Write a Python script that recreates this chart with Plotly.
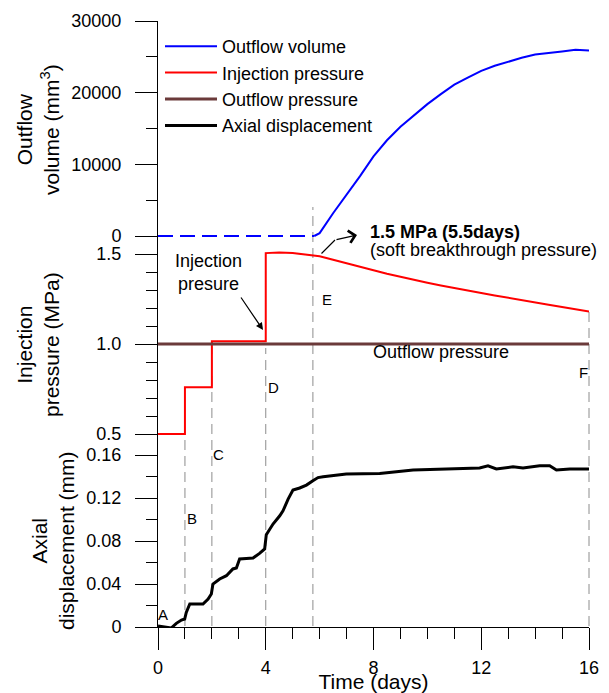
import plotly.graph_objects as go

# ---------------- data ----------------
vol_flat_days = [0, 5.8]
vol_flat = [0, 0]
vol_days = [5.8, 6.0, 6.5, 7.0, 7.5, 8.0, 8.5, 9.0, 9.5, 10.0, 10.5, 11.0, 11.5,
            12.0, 12.5, 13.0, 13.5, 14.0, 14.5, 15.0, 15.5, 16.0]
vol = [0, 400, 3170, 5680, 8350, 11100, 13360, 15250, 16890, 18400, 19800, 21120,
       22100, 23050, 23760, 24350, 24860, 25330, 25590, 25760, 25980, 25900]

inj_days = [0, 1, 1, 2, 2, 4, 4, 4.5, 5.0, 5.5, 6.0, 6.5, 7.0, 7.5, 8.0, 8.5, 9.0,
            9.5, 10.0, 10.5, 11.0, 11.5, 12.0, 12.5, 13.0, 13.5, 14.0, 14.5, 15.0,
            15.5, 16.0]
inj_p = [0.5, 0.5, 0.76, 0.76, 1.015, 1.015, 1.505, 1.508, 1.505, 1.498, 1.487,
         1.468, 1.45, 1.428, 1.41, 1.39, 1.372, 1.355, 1.34, 1.325, 1.31, 1.296,
         1.283, 1.27, 1.258, 1.245, 1.232, 1.218, 1.205, 1.193, 1.18]

out_p_days = [0, 16]
out_p = [1.0, 1.0]

disp_days = [0, 0.31, 0.49, 0.68, 0.87, 0.99, 1.05, 1.18, 1.42, 1.67, 1.86, 1.98,
             2.04, 2.29, 2.54, 2.78, 2.91, 3.03, 3.28, 3.53, 3.77, 3.96, 4.02, 4.27,
             4.52, 4.64, 4.83, 5.01, 5.26, 5.51, 5.75, 5.94, 6.13, 6.99, 8.23, 9.47,
             10.71, 11.94, 12.25, 12.56, 13.18, 13.55, 14.17, 14.54, 14.79, 15.29, 16.0]
disp = [0.001, 0.0, -0.001, 0.0034, 0.0065, 0.0074, 0.0136, 0.0214, 0.0214, 0.0214,
        0.026, 0.0307, 0.040, 0.0447, 0.0477, 0.054, 0.0549, 0.0633, 0.0638, 0.0642,
        0.0685, 0.0726, 0.0859, 0.0958, 0.1035, 0.108, 0.119, 0.1274, 0.1293, 0.132,
        0.136, 0.139, 0.1398, 0.1423, 0.1429, 0.146, 0.147, 0.148, 0.150, 0.147,
        0.149, 0.148, 0.150, 0.150, 0.146, 0.147, 0.147]

stage_labels = ["A", "B", "C", "D", "E", "F"]
stage_days = [1, 2, 4, 5.75, 16]

x_ticks = [0, 4, 8, 12, 16]
vol_ticks = [0, 10000, 20000, 30000]
p_ticks = [0.5, 1.0, 1.5]
p_ticktext = ["0.5", "1.0", "1.5"]
d_ticks = [0, 0.04, 0.08, 0.12, 0.16]
d_ticktext = ["0", "0.04", "0.08", "0.12", "0.16"]

# ---------------- layout geometry ----------------
W, H = 609, 693
ML, MR, MT, MB = 158, 20, 21, 66
PW = W - ML - MR
PH = H - MT - MB
X_MAX = 16


def py(p):
    return (H - MB - p) / PH


def px(p):
    return (p - ML) / PW


FONT = "Arial, Liberation Sans, sans-serif"

fig = go.Figure()
fig.add_trace(go.Scatter(x=vol_days, y=vol, mode="lines", name="Outflow volume",
                         line=dict(color="#0000ff", width=2), yaxis="y",
                         legendgroup="a"))
fig.add_trace(go.Scatter(x=vol_flat_days, y=vol_flat, mode="lines", showlegend=False,
                         line=dict(color="#0000ff", width=2, dash="15px,7px"),
                         yaxis="y", legendgroup="a"))
fig.add_trace(go.Scatter(x=inj_days, y=inj_p, mode="lines", name="Injection pressure",
                         line=dict(color="#ff0000", width=2), yaxis="y2",
                         legendgroup="b"))
fig.add_trace(go.Scatter(x=out_p_days, y=out_p, mode="lines", name="Outflow pressure",
                         line=dict(color="#6b3a3a", width=3), yaxis="y2",
                         legendgroup="c"))
fig.add_trace(go.Scatter(x=disp_days, y=disp, mode="lines", name="Axial displacement",
                         line=dict(color="#000000", width=3), yaxis="y3",
                         legendgroup="d"))

axis_common = dict(showline=True, linecolor="black", linewidth=1, ticks="outside",
                   ticklen=22, tickwidth=1, tickcolor="black", showgrid=False,
                   zeroline=False, tickfont=dict(size=18, color="black", family=FONT),
                   anchor="x", ticklabelstandoff=10)

vol_pad = 700
top_bottom = py(236) - vol_pad / 30000 * 215 / PH
p_lo = 0.48
mid_bottom = py(434) - (0.5 - p_lo) * 180 / PH
d_hi = (H - MB - 434) / 1075

fig.update_layout(
    width=W, height=H,
    margin=dict(l=ML, r=MR, t=MT, b=MB, autoexpand=False),
    paper_bgcolor="white", plot_bgcolor="rgba(0,0,0,0)",
    font=dict(family=FONT, color="black"),
    showlegend=True,
    legend=dict(x=px(160), y=py(28), xanchor="left", yanchor="top",
                bgcolor="rgba(0,0,0,0)", font=dict(size=18, family=FONT),
                tracegroupgap=0, itemwidth=52),
    xaxis=dict(range=[0, X_MAX], anchor="y3", showline=True, linecolor="black",
               linewidth=1, ticks="outside", ticklen=22, tickwidth=1, tickcolor="black",
               tickvals=x_ticks, showgrid=False, zeroline=False,
               tickfont=dict(size=18, family=FONT), ticklabelstandoff=2,
               minor=dict(dtick=1, tick0=0, ticklen=11, tickcolor="black", ticks="outside"),
               title=dict(text="Time (days)", font=dict(size=21, family=FONT), standoff=0)),
    yaxis=dict(domain=[top_bottom, 1], range=[-vol_pad, 30000], tickvals=vol_ticks,
               ticktext=[str(v) for v in vol_ticks],
               minor=dict(tickvals=[5000, 15000, 25000], ticklen=11, tickcolor="black",
                          ticks="outside"),
               **axis_common),
    yaxis2=dict(domain=[mid_bottom, py(236)], range=[p_lo, 1.6], tickvals=p_ticks,
                ticktext=p_ticktext,
                minor=dict(tickvals=[0.6, 0.7, 0.8, 0.9, 1.1, 1.2, 1.3, 1.4],
                           ticklen=11, tickcolor="black", ticks="outside"),
                **axis_common),
    yaxis3=dict(domain=[0, py(434)], range=[0, d_hi], tickvals=d_ticks,
                ticktext=d_ticktext,
                minor=dict(tickvals=[0.02, 0.06, 0.10, 0.14], ticklen=11,
                           tickcolor="black", ticks="outside"),
                **axis_common),
)

# vertical stage lines (paper coordinates, from the days they mark)
stage_tops = [437, 347, 348, 207, 308]
shapes = []
for d, top in zip(stage_days, stage_tops):
    shapes.append(dict(type="line", xref="paper", yref="paper", x0=d / X_MAX,
                       x1=d / X_MAX, y0=py(626), y1=py(top),
                       line=dict(color="#8c8c8c", width=1, dash="10px,6px"),
                       layer="below"))
fig.update_layout(shapes=shapes)


def pann(text, x, y, size=18, **kw):
    d = dict(text=text, xref="paper", yref="paper", x=px(x), y=py(y),
             xanchor="center", yanchor="middle",
             showarrow=False, font=dict(size=size, family=FONT))
    d.update(kw)
    return d


def parrow(hx, hy, tx, ty, head, size=1.0):
    return dict(text="", xref="paper", yref="paper", x=px(hx), y=py(hy),
                axref="pixel", ayref="pixel", ax=tx - hx, ay=ty - hy,
                showarrow=True, arrowhead=head, arrowsize=size, arrowwidth=1.2,
                arrowcolor="black")


ann = []
# y-axis titles
for text, cx, cy in [("Outflow<br>volume (mm<sup>3</sup>)", 38, 130),
                     ("Injection<br>pressure (MPa)", 38, 345),
                     ("Axial<br>displacement (mm)", 53, 541)]:
    ann.append(pann(text, cx, cy, size=21, textangle=-90))
# stage letters (pixel positions)
letter_px = [(163, 614), (192, 518), (218, 454), (273, 388), (327, 299), (583, 373)]
for lab, (lx, ly) in zip(stage_labels, letter_px):
    ann.append(pann(lab, lx, ly, size=15))
# injection pressure callout
ann.append(pann("Injection<br>presure", 208, 272))
ann.append(parrow(263, 330, 240, 296, head=2, size=1.2))
# breakthrough callout
ann.append(parrow(335, 240, 320, 255, head=0))
ann.append(parrow(357, 235, 335, 240, head=4, size=2))
ann.append(pann("<b>1.5 MPa (5.5days)</b>", 368, 232, xanchor="left"))
ann.append(pann("(soft breakthrough pressure)", 368, 250, xanchor="left"))
ann.append(pann("Outflow pressure", 441, 352))
fig.update_layout(annotations=ann)

fig.write_html("out.html", config={"displayModeBar": False},
               post_script="document.body.style.margin='0px';"
                           "document.body.style.overflow='hidden';")
